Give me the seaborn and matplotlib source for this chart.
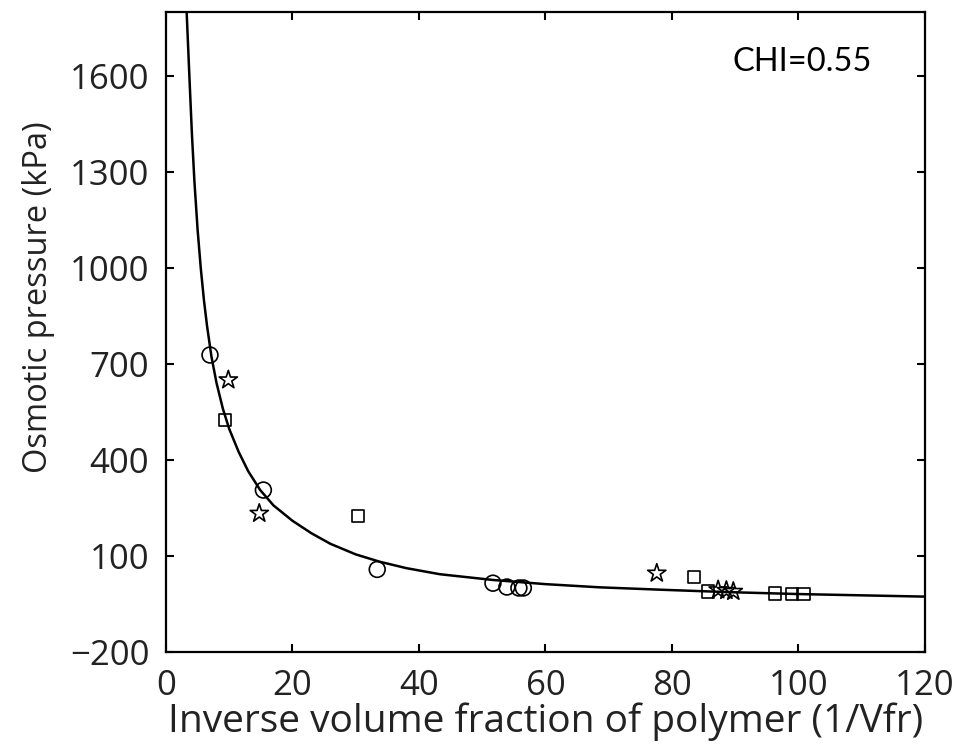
import matplotlib
matplotlib.use("Agg")
import matplotlib.pyplot as plt
import seaborn as sns

# Fitted curve
curve_x = [3.27, 3.7, 4.1, 4.5, 5.0, 5.5, 6.0, 6.5, 7.2, 8.0, 9.0, 10.0, 11.5, 13.0,
           14.9, 17.0, 20.0, 23.0, 26.0, 30.0, 33.8, 38.0, 43.3, 51.7, 60.0, 68.6,
           79.0, 89.0, 100.0, 110.0, 120.0]
curve_y = [1800, 1600, 1420, 1270, 1120, 1000, 900, 818, 722, 640, 560, 497, 425, 365,
           306, 258, 210, 171, 138, 105, 82, 62, 43, 25, 12, 2,
           -6, -13, -19, -23, -27]

# Measured points
circle_x = [6.96, 15.4, 33.4, 51.7, 53.9, 55.8, 56.5]
circle_y = [728, 306, 58, 15, 3, 0, 0]
star_x = [9.86, 14.75, 77.6, 87.3, 88.6, 89.7]
star_y = [650, 233, 46, -6, -8, -11]
square_x = [9.33, 30.4, 83.5, 85.7, 96.3, 99.0, 100.8]
square_y = [525, 225, 35, -11, -17, -19, -19]

x_ticks = [0, 20, 40, 60, 80, 100, 120]
y_ticks = [-200, 100, 400, 700, 1000, 1300, 1600]

sns.set_style("ticks")
plt.rcParams["font.family"] = ["Open Sans", "DejaVu Sans"]

fig = plt.figure(figsize=(9.61, 7.47), dpi=100)
ax = fig.add_axes([0.1727, 0.1272, 0.7898, 0.8568])

sns.lineplot(x=curve_x, y=curve_y, sort=False, color="black", linewidth=1.8, ax=ax)

sns.scatterplot(x=circle_x, y=circle_y, marker="o", s=130, facecolor="none",
                edgecolor="black", linewidth=1.2, ax=ax, zorder=3)
sns.scatterplot(x=star_x, y=star_y, marker="*", s=190, facecolor="none",
                edgecolor="black", linewidth=1.2, ax=ax, zorder=3)
sns.scatterplot(x=square_x, y=square_y, marker="s", s=80, facecolor="none",
                edgecolor="black", linewidth=1.2, ax=ax, zorder=3)

ax.set_xlim(0, 120)
ax.set_ylim(-200, 1800)
ax.set_xticks(x_ticks)
ax.set_yticks(y_ticks)
ax.set_xticklabels([str(t) for t in x_ticks])
ax.set_yticklabels(["\u2212200" if t < 0 else str(t) for t in y_ticks])

for sp in ax.spines.values():
    sp.set_visible(True)
    sp.set_linewidth(1.6)
    sp.set_color("black")

ax.tick_params(axis="both", direction="in", length=6, width=1.5, top=True, right=True,
               labelsize=25, colors="black")
ax.tick_params(axis="y", pad=12, labelcolor="#222222")
ax.tick_params(axis="x", pad=12, labelcolor="#222222")

ax.set_xlabel("Inverse volume fraction of polymer (1/Vfr)", fontsize=28, color="#222222")
ax.set_ylabel("Osmotic pressure (kPa)", fontsize=23.5, color="#222222")
ax.xaxis.set_label_coords(0.5, -0.078)
ax.yaxis.set_label_coords(-0.146, 0.555)

ax.text(0.93, 0.922, "CHI=0.55", transform=ax.transAxes, ha="right", va="center",
        fontsize=23.5, family=["Lato", "DejaVu Sans"], color="black")

fig.savefig("out.png", dpi=100, facecolor="white")
